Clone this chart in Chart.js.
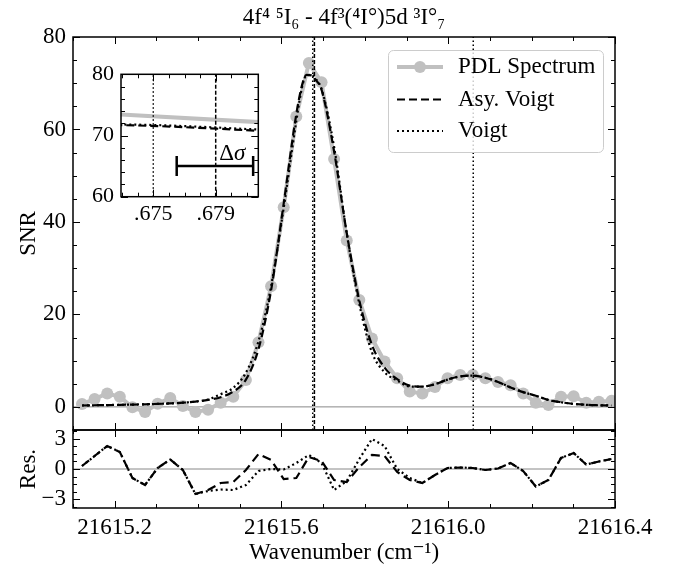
<!DOCTYPE html>
<html>
<head>
<meta charset="utf-8">
<script src="https://cdn.jsdelivr.net/npm/chart.js@4.4.0/dist/chart.umd.min.js"></script>
<style>
  html, body { margin: 0; padding: 0; background: #fff; }
  #wrap { position: relative; width: 676px; height: 570px; overflow: hidden; }
  canvas { position: absolute; }
  #mainChart { left: 0; top: 0; }
  #resChart { left: 0; top: 420px; }
  #insetChart { left: 80px; top: 60px; }
</style>
</head>
<body>
<div id="wrap">
  <canvas id="mainChart" width="676" height="432"></canvas>
  <canvas id="resChart" width="676" height="150"></canvas>
  <canvas id="insetChart" width="200" height="170"></canvas>
</div>
<script>
// measured spectrum (PDL) - wavenumber / SNR
const specX = [21615.1216, 21615.1518, 21615.1821, 21615.2123, 21615.2425, 21615.2728, 21615.3030, 21615.3333, 21615.3635, 21615.3937,
  21615.4240, 21615.4542, 21615.4844, 21615.5147, 21615.5449, 21615.5751, 21615.6054, 21615.6356, 21615.6658, 21615.6961,
  21615.7263, 21615.7566, 21615.7868, 21615.8170, 21615.8473, 21615.8775, 21615.9077, 21615.9380, 21615.9682, 21615.9984,
  21616.0287, 21616.0589, 21616.0891, 21616.1194, 21616.1496, 21616.1798, 21616.2101, 21616.2403, 21616.2705, 21616.3008,
  21616.3310, 21616.3613, 21616.3915];
const specSNR = [0.6, 1.7, 2.9, 2.2, -0.1, -1.1, 0.7, 1.9, 0.2, -1.1,
  -0.6, 0.9, 2.2, 5.8, 14.0, 26.1, 43.2, 62.8, 74.4, 70.2,
  53.6, 36.0, 23.1, 14.8, 9.8, 6.2, 3.3, 2.9, 4.3, 6.2,
  6.9, 6.9, 6.2, 5.4, 4.7, 2.9, 0.9, 0.4, 2.2, 2.3,
  0.9, 1.1, 1.3];

// fitted profiles
const fitX = [21615.1216, 21615.1518, 21615.1821, 21615.2123, 21615.2425, 21615.2728, 21615.3030, 21615.3333, 21615.3635, 21615.3937,
  21615.4240, 21615.4542, 21615.4844, 21615.5147, 21615.5449, 21615.5751, 21615.6054, 21615.6356, 21615.6500, 21615.6600,
  21615.6725, 21615.6815, 21615.6961, 21615.7263, 21615.7566, 21615.7868, 21615.8170, 21615.8473, 21615.8775, 21615.9077,
  21615.9380, 21615.9682, 21615.9984, 21616.0287, 21616.0589, 21616.0891, 21616.1194, 21616.1496, 21616.1798, 21616.2101,
  21616.2403, 21616.2705, 21616.3008, 21616.3310, 21616.3613, 21616.3915];
const asySNR = [0.3, 0.35, 0.4, 0.45, 0.5, 0.55, 0.65, 0.75, 0.9, 1.15,
  1.5, 2.1, 3.3, 5.9, 12.5, 25.2, 44.0, 63.3, 69.8, 71.8,
  71.7, 70.8, 68.6, 55.2, 37.6, 23.0, 13.4, 8.5, 6.0, 4.6,
  4.4, 4.9, 5.9, 6.6, 6.75, 6.3, 5.4, 4.2, 3.2, 2.4,
  1.5, 1.0, 0.65, 0.45, 0.35, 0.3];
const voigtSNR = [0.3, 0.35, 0.4, 0.45, 0.5, 0.55, 0.65, 0.75, 0.9, 1.15,
  1.6, 2.75, 4.1, 7.4, 14.2, 26.1, 43.05, 61.8, 69.4, 71.7,
  71.8, 71.0, 68.8, 56.2, 37.5, 22.2, 11.8, 7.5, 5.7, 4.4,
  4.4, 4.9, 5.9, 6.6, 6.75, 6.3, 5.4, 4.2, 3.2, 2.4,
  1.5, 1.0, 0.65, 0.45, 0.35, 0.3];

// residuals at the spectrum points
const resAsy = [0.3, 1.3, 2.3, 1.7, -0.9, -1.6, 0.1, 0.95, -0.1, -2.5,
  -2.1, -1.4, -1.3, -0.1, 1.5, 0.9, -1.0, -0.9, 1.2, 0.8,
  -1.1, -1.3, 0.2, 1.4, 1.3, -0.3, -1.1, -1.4, -0.6, 0.1,
  0.15, 0.1, -0.1, 0.05, 0.6, -0.2, -1.75, -1.1, 1.1, 1.6,
  0.45, 0.75, 1.0];
const resVoigt = [0.3, 1.3, 2.3, 1.7, -0.9, -1.6, 0.1, 0.95, -0.1, -2.5,
  -2.2, -2.05, -2.1, -1.6, -0.2, 0.0, -0.05, 0.6, 1.4, 0.6,
  -2.1, -1.2, 1.0, 3.0, 2.3, 0.0, -0.9, -1.4, -0.6, 0.1,
  0.15, 0.1, -0.1, 0.05, 0.6, -0.2, -1.75, -1.1, 1.1, 1.6,
  0.45, 0.75, 1.0];

// line centres and uncertainty
const voigtCenters = [21615.675, 21616.06];
const asyCenters = [21615.679];
const deltaSigma = [21615.6765, 21615.6814];
const deltaSigmaSNR = 65;

// axes
const xRange = [21615.1, 21616.4];
const xMajor = [21615.2, 21615.6, 21616.0, 21616.4];
const snrRange = [-5, 80];
const snrMajor = [0, 20, 40, 60, 80];
const resRange = [-3.9, 3.9];
const resMajor = [-3, 0, 3];
const insetXRange = [21615.67293, 21615.68173];
const insetXMajor = [21615.675, 21615.679];
const insetXLabels = ['.675', '.679'];
const insetYRange = [60, 80];
const insetYMajor = [60, 70, 80];

const legendLabels = ['PDL Spectrum', 'Asy. Voigt', 'Voigt'];
const titleText = '4f\u2074 \u2075I\u2086 - 4f\u00b3(\u2074I\u00b0)5d \u00b3I\u00b0\u2087';

const SERIF = "'Liberation Serif', 'DejaVu Serif', serif";
Chart.defaults.font.family = SERIF;
Chart.defaults.color = '#000';

const GREY = '#c0c0c0';
const FS = 23;

function steps(a, b, s) {
    const out = [];
    const n = Math.round((b - a) / s);
    for (let i = 0; i <= n; i++) out.push(+(a + i * s).toFixed(6));
    return out;
}
function isMajor(v, list) { return list.some(m => Math.abs(m - v) < 1e-7); }
const pts = (xs, ys) => xs.map((x, i) => ({ x, y: ys[i] }));
const vline = (x, y0, y1) => [{ x, y: y0 }, { x, y: y1 }];
const setTicks = vals => s => { s.ticks = vals.map(v => ({ value: v })); };
// fixed box sizes, no extra room for label overhang
const fixBox = (w, h) => s => {
    if (w !== null) s.width = w;
    if (h !== null) s.height = h;
    s.paddingTop = 0; s.paddingBottom = 0; s.paddingLeft = 0; s.paddingRight = 0;
};

// frame + inward ticks on all four sides
function framePlugin(xMaj, yMaj) {
    return {
        id: 'frame',
        afterDraw(chart) {
            const { ctx, chartArea: a, scales: { x, y } } = chart;
            ctx.save();
            ctx.strokeStyle = '#000';
            ctx.lineWidth = 1;
            ctx.beginPath();
            x.ticks.forEach(t => {
                const px = Math.round(x.getPixelForValue(t.value)) + 0.5;
                const len = isMajor(t.value, xMaj) ? 7 : 4;
                ctx.moveTo(px, a.bottom); ctx.lineTo(px, a.bottom - len);
                ctx.moveTo(px, a.top); ctx.lineTo(px, a.top + len);
            });
            y.ticks.forEach(t => {
                const py = Math.round(y.getPixelForValue(t.value)) + 0.5;
                const len = isMajor(t.value, yMaj) ? 7 : 4;
                ctx.moveTo(a.left, py); ctx.lineTo(a.left + len, py);
                ctx.moveTo(a.right, py); ctx.lineTo(a.right - len, py);
            });
            ctx.stroke();
            ctx.lineWidth = 1.5;
            ctx.strokeRect(a.left, a.top, a.right - a.left, a.bottom - a.top);
            ctx.restore();
        }
    };
}

// title centred over the plotting area
const titlePlugin = {
    id: 'panelTitle',
    afterDraw(chart) {
        const { ctx, chartArea: a } = chart;
        ctx.save();
        ctx.fillStyle = '#000';
        ctx.font = FS + 'px ' + SERIF;
        ctx.textAlign = 'center';
        ctx.textBaseline = 'middle';
        ctx.fillText(titleText, (a.left + a.right) / 2, 18);
        ctx.restore();
    }
};

const legendPlugin = {
    id: 'boxLegend',
    afterDraw(chart) {
        const ctx = chart.ctx;
        ctx.save();
        ctx.beginPath();
        ctx.roundRect(388.5, 50.5, 215, 102, 5);
        ctx.fillStyle = 'rgba(255,255,255,0.8)';
        ctx.fill();
        ctx.strokeStyle = '#cccccc';
        ctx.lineWidth = 1;
        ctx.stroke();
        const rows = [67, 99.5, 131];
        legendLabels.forEach((lab, i) => {
            const ds = chart.data.datasets.find(d => d.label === lab);
            const y = rows[i];
            ctx.strokeStyle = ds.borderColor;
            ctx.lineWidth = ds.borderWidth;
            ctx.setLineDash(ds.borderDash || []);
            ctx.beginPath(); ctx.moveTo(397, y); ctx.lineTo(443, y); ctx.stroke();
            ctx.setLineDash([]);
            if (ds.pointRadius) {
                ctx.fillStyle = ds.pointBackgroundColor;
                ctx.beginPath(); ctx.arc(420, y, ds.pointRadius, 0, Math.PI * 2); ctx.fill();
            }
            ctx.fillStyle = '#000';
            ctx.font = FS + 'px ' + SERIF;
            ctx.textBaseline = 'middle';
            ctx.fillText(lab, 458, y);
        });
        ctx.restore();
    }
};

function profileSets(yLo, yHi) {
    const sets = [
        { label: 'Asy. Voigt', data: pts(fitX, asySNR), borderColor: '#000', borderWidth: 2.2, borderDash: [8, 4], pointRadius: 0, cubicInterpolationMode: 'monotone' },
        { label: 'Voigt', data: pts(fitX, voigtSNR), borderColor: '#000', borderWidth: 2.2, borderDash: [2, 3], pointRadius: 0, cubicInterpolationMode: 'monotone' }
    ];
    voigtCenters.forEach(c => sets.push({ label: 'vc', data: vline(c, yLo, yHi), borderColor: '#000', borderWidth: 1.5, borderDash: [1.5, 2.5], pointRadius: 0 }));
    asyCenters.forEach(c => sets.push({ label: 'ac', data: vline(c, yLo, yHi), borderColor: '#000', borderWidth: 1.5, borderDash: [4, 2], pointRadius: 0 }));
    sets.push({ label: 'PDL Spectrum', data: pts(specX, specSNR), borderColor: GREY, borderWidth: 4, tension: 0,
        pointRadius: 6, pointBackgroundColor: GREY, pointBorderWidth: 0 });
    return sets;
}

const baseOpts = {
    responsive: false, animation: false, events: [],
    plugins: { legend: { display: false }, tooltip: { enabled: false }, title: { display: false } }
};
const noGrid = { display: false, drawTicks: false };

// main panel
const mainSets = profileSets(snrRange[0], snrRange[1]);
mainSets.push({ label: 'zero', data: [{ x: xRange[0], y: 0 }, { x: xRange[1], y: 0 }], borderColor: '#888', borderWidth: 1, pointRadius: 0 });

new Chart(document.getElementById('mainChart'), {
    type: 'line',
    data: { datasets: mainSets },
    options: {
        ...baseOpts,
        layout: { autoPadding: false, padding: { left: 0, right: 61, top: 37, bottom: 2 } },
        scales: {
            x: {
                type: 'linear', min: xRange[0], max: xRange[1],
                grid: noGrid, border: { display: false },
                ticks: { display: false },
                afterBuildTicks: setTicks(steps(xRange[0], xRange[1], 0.1)),
                afterFit: fixBox(null, 0)
            },
            y: {
                type: 'linear', min: snrRange[0], max: snrRange[1],
                grid: noGrid, border: { display: false },
                ticks: { padding: 7, autoSkip: false, font: { size: FS }, callback: v => isMajor(v, snrMajor) ? String(v) : '' },
                title: { display: true, text: 'SNR', font: { size: FS }, padding: { top: 15, bottom: 0 } },
                afterBuildTicks: setTicks(steps(snrRange[0], snrRange[1], 5)),
                afterFit: fixBox(73, null)
            }
        }
    },
    plugins: [framePlugin(xMajor, snrMajor), titlePlugin, legendPlugin]
});

// residual panel
new Chart(document.getElementById('resChart'), {
    type: 'line',
    data: {
        datasets: [
            { label: 'Asy. Voigt', data: pts(specX, resAsy), borderColor: '#000', borderWidth: 2.2, borderDash: [9, 5], pointRadius: 0, tension: 0 },
            { label: 'Voigt', data: pts(specX, resVoigt), borderColor: '#000', borderWidth: 2.2, borderDash: [2, 3], pointRadius: 0, tension: 0 },
            { label: 'zero', data: [{ x: xRange[0], y: 0 }, { x: xRange[1], y: 0 }], borderColor: '#888', borderWidth: 1, pointRadius: 0 }
        ]
    },
    options: {
        ...baseOpts,
        layout: { autoPadding: false, padding: { left: 0, right: 61, top: 10, bottom: 0 } },
        scales: {
            x: {
                type: 'linear', min: xRange[0], max: xRange[1],
                grid: noGrid, border: { display: false },
                ticks: { padding: 6, autoSkip: false, maxRotation: 0, minRotation: 0, font: { size: FS },
                    callback: v => isMajor(v, xMajor) ? v.toFixed(1) : '' },
                title: { display: true, text: 'Wavenumber (cm\u207b\u00b9)', font: { size: FS }, padding: { top: 0, bottom: 3 } },
                afterBuildTicks: setTicks(steps(xRange[0], xRange[1], 0.1)),
                afterFit: fixBox(null, 62)
            },
            y: {
                type: 'linear', min: resRange[0], max: resRange[1],
                grid: noGrid, border: { display: false },
                ticks: { padding: 7, autoSkip: false, font: { size: FS },
                    callback: v => isMajor(v, resMajor) ? (v < 0 ? '\u2212' + Math.abs(v) : String(v)) : '' },
                title: { display: true, text: 'Res.', font: { size: FS }, padding: { top: 15, bottom: 0 } },
                afterBuildTicks: setTicks(steps(-3.75, 3.75, 0.75)),
                afterFit: fixBox(73, null)
            }
        }
    },
    plugins: [framePlugin(xMajor, resMajor)]
});

// inset: zoom on the peak
const insetPlugin = {
    id: 'insetExtras',
    beforeDatasetsDraw(chart) {
        const { ctx, chartArea: a } = chart;
        ctx.save();
        ctx.fillStyle = '#fff';
        ctx.fillRect(a.left, a.top, a.right - a.left, a.bottom - a.top);
        ctx.restore();
    },
    afterDatasetsDraw(chart) {
        const { ctx, scales: { x, y } } = chart;
        const x0 = x.getPixelForValue(deltaSigma[0]);
        const x1 = x.getPixelForValue(deltaSigma[1]);
        const py = y.getPixelForValue(deltaSigmaSNR);
        ctx.save();
        ctx.strokeStyle = '#000';
        ctx.lineWidth = 2.5;
        ctx.beginPath();
        ctx.moveTo(x0, py); ctx.lineTo(x1, py);
        ctx.moveTo(x0, py - 10); ctx.lineTo(x0, py + 10);
        ctx.moveTo(x1, py - 10); ctx.lineTo(x1, py + 10);
        ctx.stroke();
        ctx.fillStyle = '#000';
        ctx.textBaseline = 'alphabetic';
        ctx.font = FS + 'px ' + SERIF;
        const tx = x1 - 34;
        ctx.fillText('\u0394', tx, py - 6);
        const w = ctx.measureText('\u0394').width;
        ctx.font = 'italic ' + FS + 'px ' + SERIF;
        ctx.fillText('\u03c3', tx + w, py - 6);
        ctx.restore();
    }
};

new Chart(document.getElementById('insetChart'), {
    type: 'line',
    data: { datasets: profileSets(insetYRange[0], insetYRange[1]) },
    options: {
        ...baseOpts,
        layout: { autoPadding: false, padding: { left: 0, right: 21.7, top: 14.3, bottom: 0 } },
        scales: {
            x: {
                type: 'linear', min: insetXRange[0], max: insetXRange[1],
                grid: noGrid, border: { display: false },
                ticks: { padding: 4, autoSkip: false, maxRotation: 0, minRotation: 0, font: { size: 22 },
                    callback: v => { const i = insetXMajor.findIndex(m => Math.abs(m - v) < 1e-7); return i >= 0 ? insetXLabels[i] : ''; } },
                afterBuildTicks: setTicks(steps(21615.673, 21615.681, 0.001)),
                afterFit: fixBox(null, 33.3)
            },
            y: {
                type: 'linear', min: insetYRange[0], max: insetYRange[1],
                grid: noGrid, border: { display: false },
                ticks: { padding: 7, autoSkip: false, font: { size: 22 }, callback: v => isMajor(v, insetYMajor) ? String(v) : '' },
                afterBuildTicks: setTicks(steps(insetYRange[0], insetYRange[1], 2)),
                afterFit: fixBox(41, null)
            }
        }
    },
    plugins: [insetPlugin, framePlugin(insetXMajor, insetYMajor)]
});
</script>
</body>
</html>
